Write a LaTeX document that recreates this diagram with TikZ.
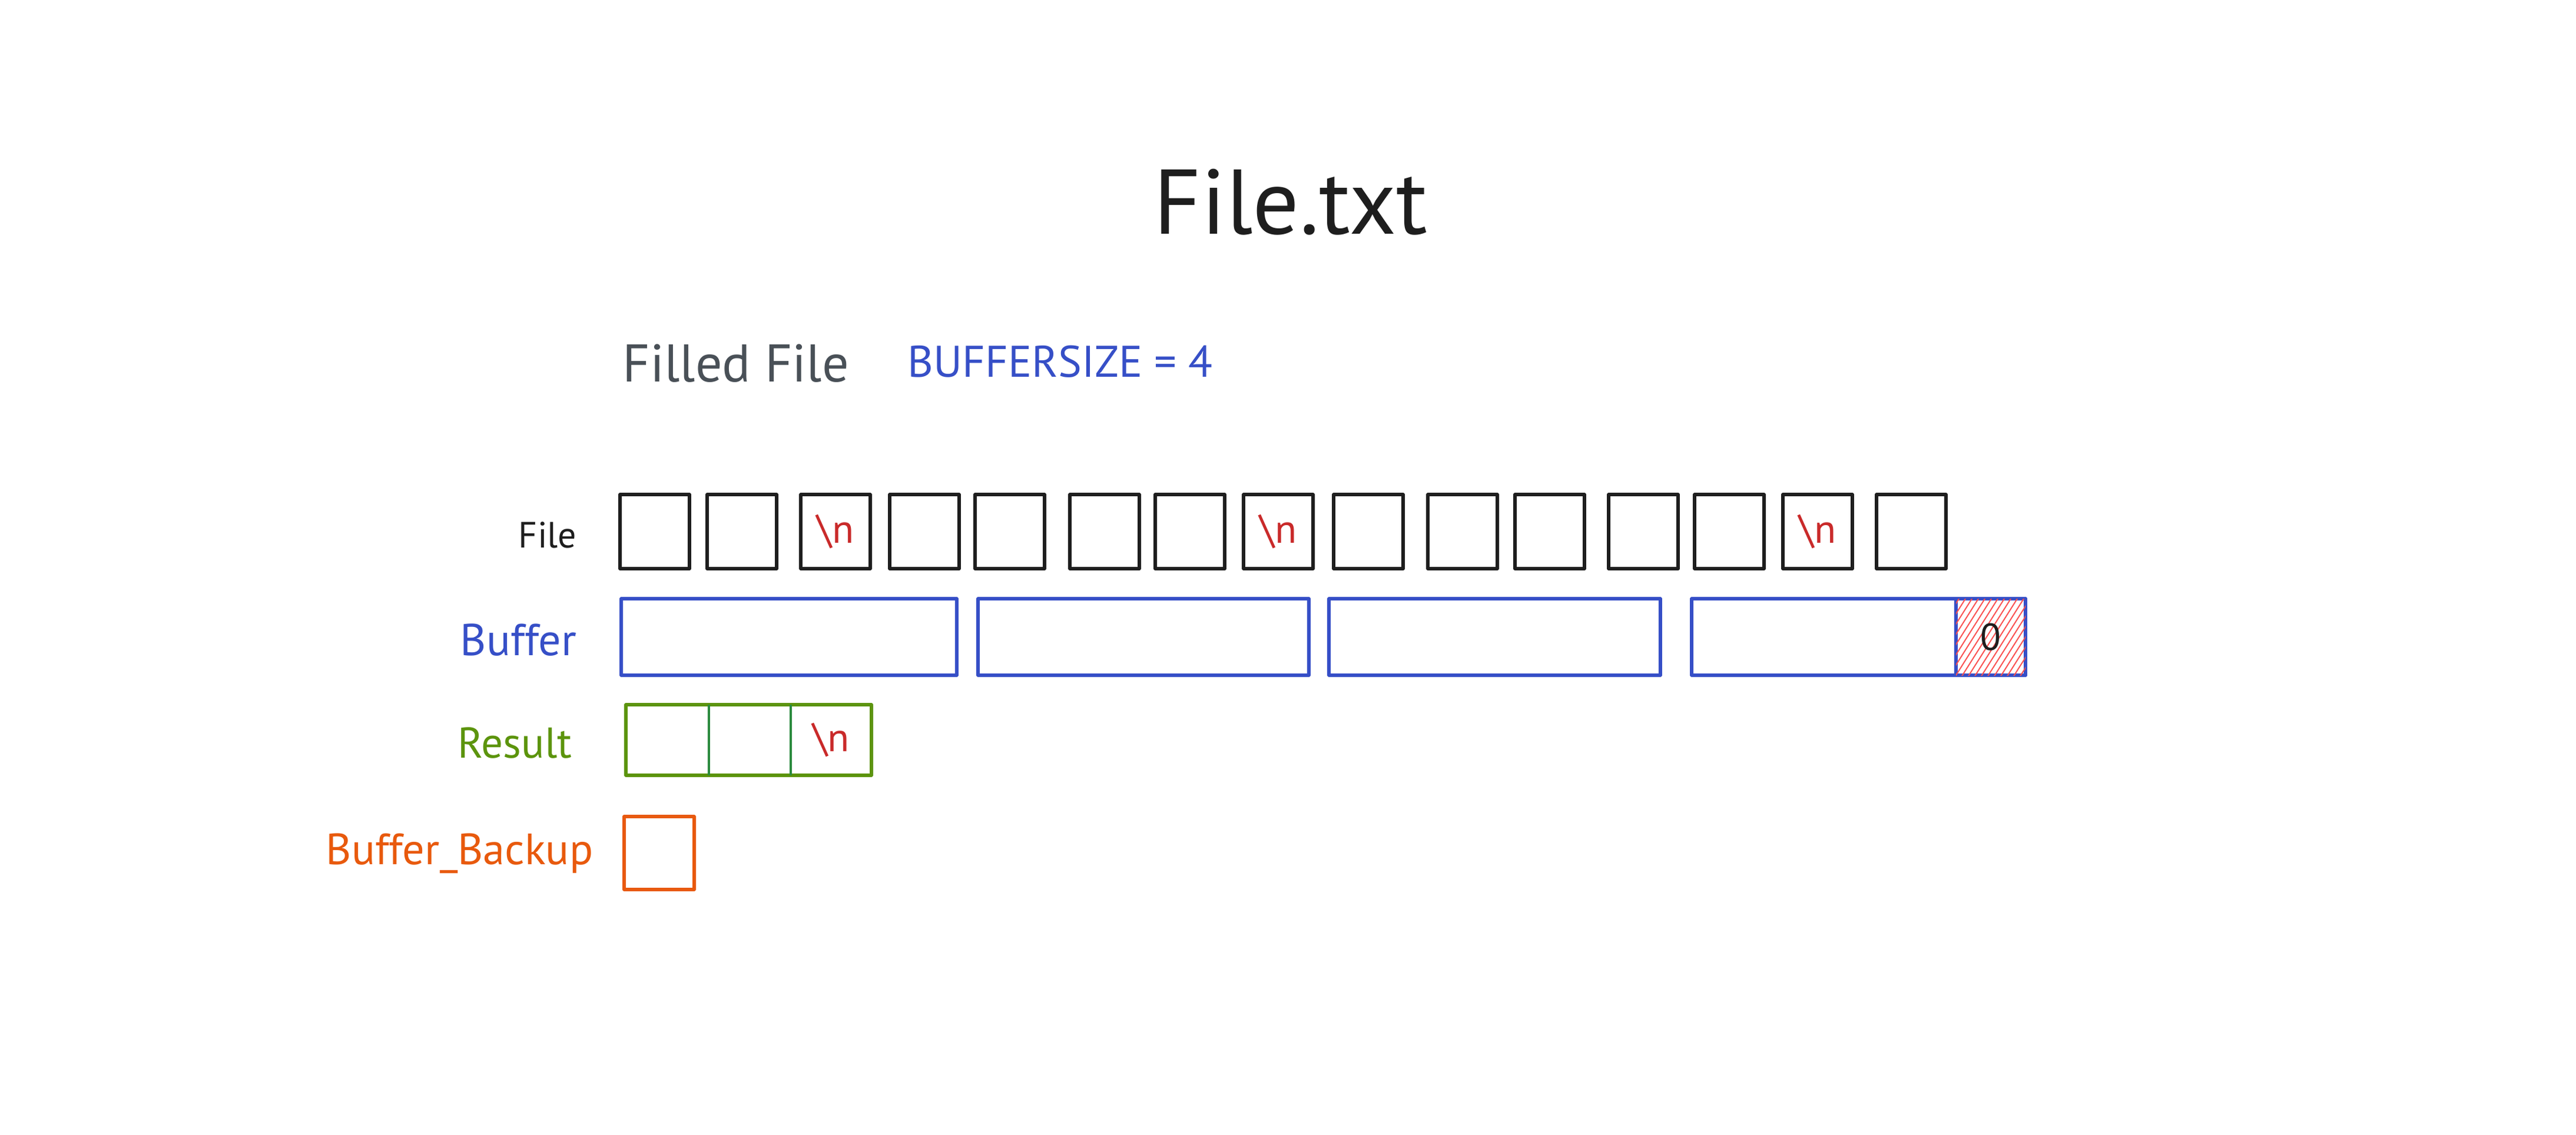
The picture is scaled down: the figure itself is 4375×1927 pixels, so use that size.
\documentclass[tikz,border=0pt]{standalone}
\usepackage{fontspec}
\setmainfont{PT Sans}
\definecolor{ink}{HTML}{1E1E1E}
\definecolor{bblue}{HTML}{364FC7}
\definecolor{nred}{HTML}{C92A2A}
\definecolor{hred}{HTML}{FA5252}
\definecolor{limec}{HTML}{5C940D}
\definecolor{dgreen}{HTML}{2B8A3E}
\definecolor{orng}{HTML}{E8590C}
\definecolor{gry}{HTML}{495057}
\begin{document}
\begin{tikzpicture}[x=0.25pt,y=-0.25pt,
  box/.style={inner sep=0pt, outer sep=0pt, line width=1.35pt, line join=round},
  filecell/.style={box, draw=ink, minimum width=29.5pt, minimum height=31.5pt},
  bufbox/.style={box, draw=bblue, minimum height=32.5pt},
  nl/.style={text=nred, font=\fontsize{17}{17}\selectfont, inner sep=0pt},
  lbl/.style={anchor=base east, inner sep=0pt},
  hatchline/.style={draw=hred, line width=0.5pt}]
\useasboundingbox (0,0) rectangle (4375,1927);

% titles
\node[anchor=base, inner sep=0pt, text=ink, font=\fontsize{39}{39}\selectfont] (title) at (2192,397) {File.txt};
\node[anchor=base west, inner sep=0pt, text=gry, font=\fontsize{22.5}{22.5}\selectfont] (filled) at (1057,648) {Filled File};
\node[anchor=base west, inner sep=0pt, text=bblue, font=\fontsize{18.8}{18.8}\selectfont] (bsize) at (1541,640) {BUFFERSIZE = 4};

% row labels
\node[lbl, text=ink, font=\fontsize{15.5}{15.5}\selectfont] (lfile) at (980,930) {File};
\node[lbl, text=bblue, font=\fontsize{19}{19}\selectfont] (lbuf) at (980,1113) {Buffer};
\node[lbl, text=limec, font=\fontsize{18.3}{18.3}\selectfont] (lres) at (972,1287) {Result};
\node[lbl, text=orng, font=\fontsize{18.6}{18.6}\selectfont] (lbak) at (1008,1468) {Buffer\_Backup};

% file cells
\foreach \cx [count=\i] in {1112,1260,1419,1570,1715,1876,2021,2171,2324,2484,2632,2791,2937,3087,3246}
  \node[filecell] (f\i) at (\cx,903) {};
\node[nl] (n1) at (f3) {\textbackslash n};
\node[nl] (n2) at (f8) {\textbackslash n};
\node[nl] (n3) at (f14) {\textbackslash n};

% buffer boxes
\node[bufbox, minimum width=142.5pt] (b1) at (1340,1082) {};
\node[bufbox, minimum width=140.5pt] (b2) at (1942,1082) {};
\node[bufbox, minimum width=140.75pt] (b3) at (2538.5,1082) {};
\node[bufbox, minimum width=141.75pt] (b4) at (3156.5,1082) {};
\node[bufbox, minimum width=29.5pt] (z) at (3381,1082) {};
\begin{scope}
  \clip (z.south west) rectangle (z.north east);
  \foreach \x in {3100,3111,...,3450}
    \draw[hatchline] (\x,1150) -- ++(120,-190);
\end{scope}
\node[inner sep=0pt, text=ink, font=\fontsize{16}{16}\selectfont] (zero) at (z) {0};

% result
\node[box, draw=limec, minimum width=104.25pt, minimum height=30pt] (r) at (1271.5,1257) {};
\coordinate (d1) at (1204,1257);
\coordinate (d2) at (1343,1257);
\draw[dgreen, line width=1.1pt] (d1 |- r.north) -- (d1 |- r.south);
\draw[dgreen, line width=1.1pt] (d2 |- r.north) -- (d2 |- r.south);
\node[nl] (r3) at (1411.5,1257) {\textbackslash n};

% buffer backup
\node[box, draw=orng, minimum width=29.75pt, minimum height=31pt] (bk) at (1119.5,1449) {};
\end{tikzpicture}
\end{document}
